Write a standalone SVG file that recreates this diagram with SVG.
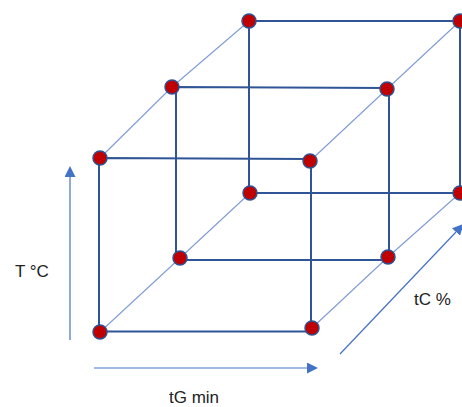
<svg xmlns="http://www.w3.org/2000/svg" width="462" height="407" viewBox="0 0 462 407">
<style>
.edge{stroke:#2F5597;stroke-width:2;fill:none}
.diag{stroke:#7F9CD4;stroke-width:1.1;fill:none}
.axis{stroke:#4472C4;stroke-width:1.2;fill:none}
.node{fill:#C00000;stroke:#2F528F;stroke-width:1.5}
.lbl{font-family:"Liberation Sans",Arial,sans-serif;font-size:17px;fill:#222}
</style>
<defs>
<marker id="arr" markerUnits="userSpaceOnUse" markerWidth="11" markerHeight="11" refX="0" refY="5" orient="auto" viewBox="0 0 10 10">
<path d="M0,0 L10,5 L0,10 z" fill="#4472C4"/>
</marker>
</defs>
<rect width="462" height="407" fill="#fff"/>
<g id="connectors">
<polyline class="diag" points="100,158 172,87 249,21"/>
<polyline class="diag" points="310,161 387,89 460,21"/>
<polyline class="diag" points="100,332 180,258 250,193"/>
<polyline class="diag" points="312,328 388,257 460,193"/>
<polyline class="edge" points="249,193 249,21 460,21 460,193 249,193"/>
<polyline class="edge" points="176,87 387,88 389,89 389,257 388,260 176,260 176,87"/>
<polyline class="edge" points="99,158 310,159 311,161 311,328 312,331.5 99,331.5 99,158"/>
</g>
<g id="axes">
<line class="axis" x1="70" y1="340" x2="70" y2="177" marker-end="url(#arr)"/>
<line class="axis" x1="94" y1="368" x2="307" y2="368" marker-end="url(#arr)"/>
<line class="axis" x1="340" y1="354" x2="456" y2="232" marker-end="url(#arr)"/>
</g>
<g id="nodes">
<g id="nA"><circle class="node" cx="100" cy="158" r="7"/></g>
<g id="nB"><circle class="node" cx="172" cy="87" r="7"/></g>
<g id="nC"><circle class="node" cx="249" cy="21" r="7"/></g>
<g id="nD"><circle class="node" cx="460" cy="21" r="7"/></g>
<g id="nE"><circle class="node" cx="387" cy="89" r="7"/></g>
<g id="nF"><circle class="node" cx="310" cy="161" r="7"/></g>
<g id="nG"><circle class="node" cx="250" cy="193" r="7"/></g>
<g id="nH"><circle class="node" cx="460" cy="193" r="7"/></g>
<g id="nI"><circle class="node" cx="100" cy="332" r="7"/></g>
<g id="nJ"><circle class="node" cx="180" cy="258" r="7"/></g>
<g id="nK"><circle class="node" cx="312" cy="328" r="7"/></g>
<g id="nL"><circle class="node" cx="388" cy="257" r="7"/></g>
</g>
<g id="labels">
<text class="lbl" x="15" y="277">T °C</text>
<text class="lbl" x="169" y="403">tG min</text>
<text class="lbl" x="414" y="305">tC %</text>
</g>
</svg>
